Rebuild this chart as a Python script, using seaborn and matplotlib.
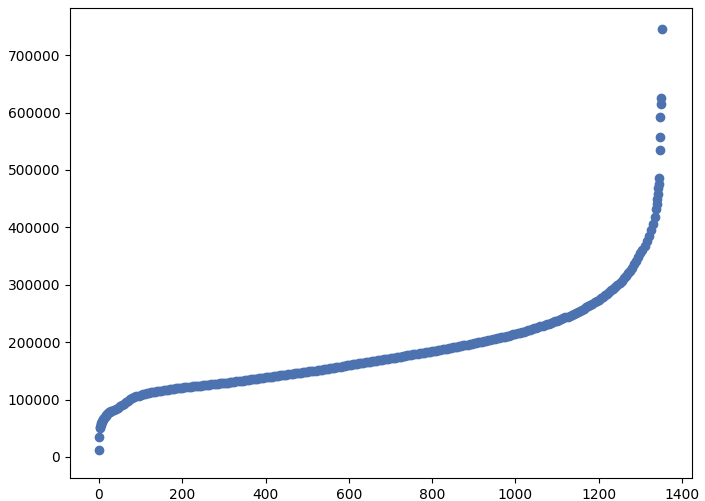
import numpy as np
import matplotlib
matplotlib.use("Agg")
import matplotlib.pyplot as plt
import seaborn as sns

# Precios ordenados: cabeça, corpo (passo de 5) e cauda
head_rank = [0, 1, 2, 3, 4, 5, 6, 7, 8, 9, 10, 12, 14, 16, 18, 20, 22, 24, 26, 28]
head_price = [12800, 35000, 50000, 52500, 55000, 57000, 59000, 61000, 62500, 64000,
              65500, 68000, 70000, 72000, 73500, 75000, 76500, 77500, 78500, 79500]

body_rank = list(range(30, 1340, 5))
body_price = [
    80500, 82000, 84000, 86000, 88000, 90000, 92500, 95000, 98000, 100500,
    102500, 104000, 105500, 107000, 108000, 109000, 110000, 111000, 111800, 112600,
    113300, 114000, 114600, 115200, 115800, 116400, 117000, 117500, 118000, 118500,
    119000, 119500, 120000, 120500, 120900, 121300, 121700, 122100, 122500, 122900,
    123300, 123700, 124100, 124500, 124900, 125300, 125700, 126100, 126500, 126900,
    127300, 127700, 128100, 128500, 128900, 129300, 129700, 130100, 130500, 131000,
    131500, 132000, 132500, 133000, 133500, 134000, 134500, 135000, 135500, 136000,
    136500, 137000, 137500, 138000, 138500, 139000, 139500, 140000, 140500, 141000,
    141500, 142000, 142500, 143000, 143500, 144000, 144500, 145000, 145500, 146000,
    146500, 147000, 147500, 148000, 148500, 149000, 149500, 150000, 150500, 151000,
    151600, 152200, 152800, 153400, 154000, 154600, 155200, 155800, 156400, 157000,
    157600, 158200, 158800, 159400, 160000, 160600, 161200, 161800, 162400, 163000,
    163600, 164200, 164800, 165400, 166000, 166600, 167200, 167800, 168400, 169000,
    169600, 170200, 170800, 171400, 172000, 172600, 173200, 173800, 174400, 175000,
    175600, 176200, 176800, 177400, 178000, 178600, 179200, 179800, 180400, 181000,
    181600, 182200, 182800, 183400, 184000, 184700, 185400, 186100, 186800, 187500,
    188200, 188900, 189600, 190300, 191000, 191700, 192400, 193100, 193800, 194500,
    195200, 195900, 196600, 197300, 198000, 198750, 199500, 200250, 201000, 201800,
    202600, 203400, 204200, 205000, 205800, 206600, 207400, 208200, 209000, 209800,
    210700, 211600, 212500, 213400, 214300, 215300, 216300, 217300, 218300, 219400,
    220500, 221600, 222700, 223800, 225000, 226200, 227400, 228600, 229800, 231000,
    232200, 233500, 234800, 236100, 237400, 238800, 240200, 241600, 243100, 244600,
    246200, 247800, 249500, 251200, 253000, 254800, 256700, 258600, 260600, 262600,
    264700, 266900, 269100, 271400, 273800, 276300, 278900, 281600, 284400, 287300,
    290300, 293400, 296600, 300000, 303600, 307400, 311400, 315600, 320000, 324800,
    330000, 335600, 341600, 348000, 355000, 361000, 368000, 376000, 385000, 395000,
    406000, 418000,
]

tail_rank = [1338, 1340, 1341, 1342, 1343, 1344, 1345, 1346, 1347, 1348, 1349, 1350, 1351]
tail_price = [432000, 440000, 450000, 458000, 468000, 476000, 486000,
              535000, 557000, 592000, 615000, 625000, 745000]

rank = head_rank + body_rank + tail_rank
price = head_price + body_price + tail_price

# Gráfico
fig, ax = plt.subplots(figsize=(7.05, 5.01), dpi=100)
fig.subplots_adjust(left=0.0993, right=0.9816, bottom=0.0459, top=0.984)

sns.scatterplot(x=rank, y=price, ax=ax, color=sns.color_palette("deep")[0],
                s=36, linewidth=1, edgecolor="face")

ax.set_xlabel('')
ax.set_ylabel('')
ax.set_xlim(-69.6, 1424)
ax.set_ylim(-36600, 782000)
ax.set_xticks([0, 200, 400, 600, 800, 1000, 1200, 1400])

plt.savefig("out.png", dpi=100)
